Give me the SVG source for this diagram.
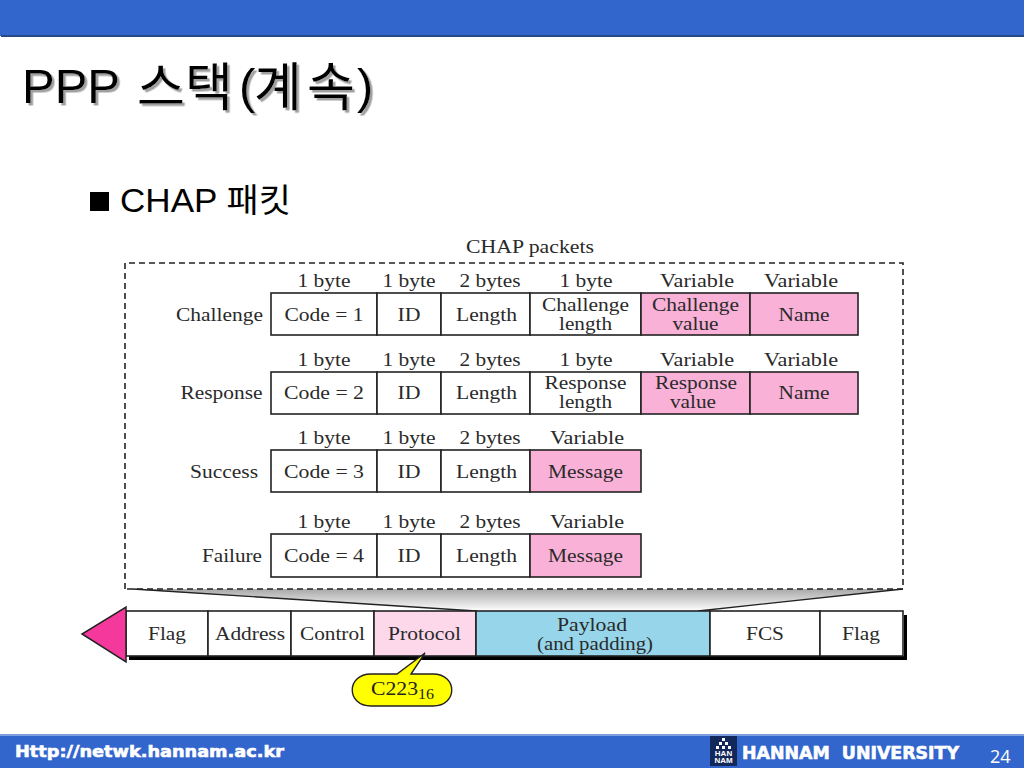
<svg xmlns="http://www.w3.org/2000/svg" width="1024" height="768" viewBox="0 0 1024 768">
<style>
.s{font-family:"Liberation Serif",serif;font-size:18px;fill:#2a2a2a;text-anchor:middle}
.c{fill:#fff;stroke:#222;stroke-width:1.6}
.p{fill:#f9b1d8;stroke:#222;stroke-width:1.6}
.h{font-family:"Liberation Sans","Noto Sans CJK KR",sans-serif;fill:#000}
.k{font-size:52px}
.f{font-family:"DejaVu Sans",sans-serif;font-weight:bold;fill:#fff;stroke:#fff;stroke-width:.6}
</style>
<defs>
<linearGradient id="g" x1="0" y1="0" x2="0" y2="1"><stop offset="0" stop-color="#a8a8a8"/><stop offset="1" stop-color="#fff"/></linearGradient>
<filter id="sh" x="-5%" y="-20%" width="110%" height="140%"><feDropShadow dx="2.500" dy="2.500" stdDeviation="0.400" flood-color="#a0a0a0"/></filter>
</defs>
<rect width="1024" height="768" fill="#fff"/>
<g id="top-band"><rect x="0" y="0" width="1024" height="36" fill="#3366cc"/><rect x="1" y="35" width="1023" height="2" fill="#264a86"/></g>
<g id="title" filter="url(#sh)">
<text class="h" y="103" font-size="49"><tspan x="22">PPP</tspan><tspan class="k" x="137" y="106">스</tspan><tspan class="k" x="185" y="106">택</tspan><tspan x="239" y="103">(</tspan><tspan class="k" x="254" y="106">계</tspan><tspan class="k" x="307" y="106">속</tspan><tspan x="357" y="103">)</tspan></text>
</g>
<g id="bullet"><rect x="90" y="192" width="19" height="19"/><text class="h" x="120" y="212" font-size="33" textLength="171" lengthAdjust="spacingAndGlyphs">CHAP 패킷</text></g>
<g id="connectors">
<path d="M126 589H903L698 611H476Z" fill="url(#g)" stroke="none"/>
<path d="M133 589L476 611M903 589L698 611" fill="none" stroke="#222" stroke-width="1.300"/>
<path d="M125 589V263H903V589H125" fill="none" stroke="#222" stroke-width="1.600" stroke-dasharray="6 4"/>
</g>
<text class="s" x="530" y="253" textLength="128" lengthAdjust="spacingAndGlyphs">CHAP packets</text>
<g id="challenge">
<text class="s" x="219.500" y="321" textLength="87" lengthAdjust="spacingAndGlyphs">Challenge</text>
<text class="s" x="324" y="287" textLength="53" lengthAdjust="spacingAndGlyphs">1 byte</text><text class="s" x="409" y="287" textLength="53" lengthAdjust="spacingAndGlyphs">1 byte</text><text class="s" x="490" y="287" textLength="61" lengthAdjust="spacingAndGlyphs">2 bytes</text><text class="s" x="586" y="287" textLength="53" lengthAdjust="spacingAndGlyphs">1 byte</text><text class="s" x="697" y="287" textLength="74" lengthAdjust="spacingAndGlyphs">Variable</text><text class="s" x="801" y="287" textLength="74" lengthAdjust="spacingAndGlyphs">Variable</text>
<rect class="c" x="271" y="293" width="106" height="42"/><rect class="c" x="377" y="293" width="64" height="42"/><rect class="c" x="441" y="293" width="89" height="42"/><rect class="c" x="530" y="293" width="111" height="42"/><rect class="p" x="641" y="293" width="109" height="42"/><rect class="p" x="750" y="293" width="108" height="42"/>
<text class="s" x="324" y="321" textLength="79" lengthAdjust="spacingAndGlyphs">Code = 1</text><text class="s" x="409" y="321" textLength="23" lengthAdjust="spacingAndGlyphs">ID</text><text class="s" x="486.500" y="321" textLength="61" lengthAdjust="spacingAndGlyphs">Length</text><text class="s" x="585.500" y="311" textLength="87" lengthAdjust="spacingAndGlyphs">Challenge</text><text class="s" x="585.500" y="330" textLength="53" lengthAdjust="spacingAndGlyphs">length</text><text class="s" x="695.500" y="311" textLength="87" lengthAdjust="spacingAndGlyphs">Challenge</text><text class="s" x="695.500" y="330" textLength="46" lengthAdjust="spacingAndGlyphs">value</text><text class="s" x="804" y="321" textLength="51" lengthAdjust="spacingAndGlyphs">Name</text>
</g>
<g id="response">
<text class="s" x="221.500" y="399" textLength="82" lengthAdjust="spacingAndGlyphs">Response</text>
<text class="s" x="324" y="366" textLength="53" lengthAdjust="spacingAndGlyphs">1 byte</text><text class="s" x="409" y="366" textLength="53" lengthAdjust="spacingAndGlyphs">1 byte</text><text class="s" x="490" y="366" textLength="61" lengthAdjust="spacingAndGlyphs">2 bytes</text><text class="s" x="586" y="366" textLength="53" lengthAdjust="spacingAndGlyphs">1 byte</text><text class="s" x="697" y="366" textLength="74" lengthAdjust="spacingAndGlyphs">Variable</text><text class="s" x="801" y="366" textLength="74" lengthAdjust="spacingAndGlyphs">Variable</text>
<rect class="c" x="271" y="372" width="106" height="42"/><rect class="c" x="377" y="372" width="64" height="42"/><rect class="c" x="441" y="372" width="89" height="42"/><rect class="c" x="530" y="372" width="111" height="42"/><rect class="p" x="641" y="372" width="109" height="42"/><rect class="p" x="750" y="372" width="108" height="42"/>
<text class="s" x="324" y="399" textLength="80" lengthAdjust="spacingAndGlyphs">Code = 2</text><text class="s" x="409" y="399" textLength="23" lengthAdjust="spacingAndGlyphs">ID</text><text class="s" x="486.500" y="399" textLength="61" lengthAdjust="spacingAndGlyphs">Length</text><text class="s" x="585.500" y="389" textLength="82" lengthAdjust="spacingAndGlyphs">Response</text><text class="s" x="585.500" y="408" textLength="53" lengthAdjust="spacingAndGlyphs">length</text><text class="s" x="696" y="389" textLength="82" lengthAdjust="spacingAndGlyphs">Response</text><text class="s" x="693" y="408" textLength="46" lengthAdjust="spacingAndGlyphs">value</text><text class="s" x="804" y="399" textLength="51" lengthAdjust="spacingAndGlyphs">Name</text>
</g>
<g id="success">
<text class="s" x="224" y="478" textLength="68" lengthAdjust="spacingAndGlyphs">Success</text>
<text class="s" x="324" y="444" textLength="53" lengthAdjust="spacingAndGlyphs">1 byte</text><text class="s" x="409" y="444" textLength="53" lengthAdjust="spacingAndGlyphs">1 byte</text><text class="s" x="490" y="444" textLength="61" lengthAdjust="spacingAndGlyphs">2 bytes</text><text class="s" x="587" y="444" textLength="74" lengthAdjust="spacingAndGlyphs">Variable</text>
<rect class="c" x="271" y="450" width="106" height="42"/><rect class="c" x="377" y="450" width="64" height="42"/><rect class="c" x="441" y="450" width="89" height="42"/><rect class="p" x="530" y="450" width="111" height="42"/>
<text class="s" x="324" y="478" textLength="80" lengthAdjust="spacingAndGlyphs">Code = 3</text><text class="s" x="409" y="478" textLength="23" lengthAdjust="spacingAndGlyphs">ID</text><text class="s" x="486.500" y="478" textLength="61" lengthAdjust="spacingAndGlyphs">Length</text><text class="s" x="585.500" y="478" textLength="75" lengthAdjust="spacingAndGlyphs">Message</text>
</g>
<g id="failure">
<text class="s" x="232" y="562" textLength="60" lengthAdjust="spacingAndGlyphs">Failure</text>
<text class="s" x="324" y="528" textLength="53" lengthAdjust="spacingAndGlyphs">1 byte</text><text class="s" x="409" y="528" textLength="53" lengthAdjust="spacingAndGlyphs">1 byte</text><text class="s" x="490" y="528" textLength="61" lengthAdjust="spacingAndGlyphs">2 bytes</text><text class="s" x="587" y="528" textLength="74" lengthAdjust="spacingAndGlyphs">Variable</text>
<rect class="c" x="271" y="534" width="106" height="43"/><rect class="c" x="377" y="534" width="64" height="43"/><rect class="c" x="441" y="534" width="89" height="43"/><rect class="p" x="530" y="534" width="111" height="43"/>
<text class="s" x="324" y="562" textLength="80" lengthAdjust="spacingAndGlyphs">Code = 4</text><text class="s" x="409" y="562" textLength="23" lengthAdjust="spacingAndGlyphs">ID</text><text class="s" x="486.500" y="562" textLength="61" lengthAdjust="spacingAndGlyphs">Length</text><text class="s" x="585.500" y="562" textLength="75" lengthAdjust="spacingAndGlyphs">Message</text>
</g>
<g id="ppp-frame">
<path d="M129 656H904V615H907V660H129Z" fill="#000"/>
<rect class="c" x="126" y="611" width="82" height="45"/><rect class="c" x="208" y="611" width="83" height="45"/><rect class="c" x="291" y="611" width="83" height="45"/>
<rect x="374" y="611" width="102" height="45" fill="#fcd8ea" stroke="#222" stroke-width="1.600"/>
<rect x="476" y="611" width="234" height="45" fill="#97d6ea" stroke="#222" stroke-width="1.600"/>
<rect class="c" x="710" y="611" width="110" height="45"/><rect class="c" x="820" y="611" width="83" height="45"/>
<path d="M126 607V662L82 634Z" fill="#f5389b" stroke="#222" stroke-width="1.500"/>
<text class="s" x="167" y="640" textLength="38" lengthAdjust="spacingAndGlyphs">Flag</text><text class="s" x="250" y="640" textLength="70" lengthAdjust="spacingAndGlyphs">Address</text><text class="s" x="332.500" y="640" textLength="65" lengthAdjust="spacingAndGlyphs">Control</text><text class="s" x="424.500" y="640" textLength="73" lengthAdjust="spacingAndGlyphs">Protocol</text>
<text class="s" x="592" y="631" textLength="70" lengthAdjust="spacingAndGlyphs">Payload</text><text class="s" x="595" y="650" textLength="116" lengthAdjust="spacingAndGlyphs">(and padding)</text>
<text class="s" x="765" y="640" textLength="38" lengthAdjust="spacingAndGlyphs">FCS</text><text class="s" x="861" y="640" textLength="38" lengthAdjust="spacingAndGlyphs">Flag</text>
</g>
<g id="callout">
<path d="M425 653L397 674H371C346 674 346 706 371 706H433C458 706 458 674 433 674H411Z" fill="#ffff00" stroke="#222" stroke-width="1.400"/>
<text x="371" y="695" style="font-family:'Liberation Serif',serif;font-size:18px;fill:#222" textLength="47" lengthAdjust="spacingAndGlyphs">C223</text>
<text x="418" y="699" style="font-family:'Liberation Serif',serif;font-size:14px;fill:#222" textLength="16" lengthAdjust="spacingAndGlyphs">16</text>
</g>
<g id="footer">
<rect x="0" y="735" width="1024" height="33" fill="#3366cc"/><rect x="0" y="734" width="1024" height="2" fill="#7e9fdc"/>
<text class="f" x="15" y="757" font-size="16" textLength="269" lengthAdjust="spacingAndGlyphs">Http://netwk.hannam.ac.kr</text>
<rect x="710" y="736" width="27" height="30" fill="#13285a"/>
<g fill="#fff"><rect x="722" y="738" width="3" height="3"/><rect x="719" y="742" width="3" height="3"/><rect x="725" y="742" width="3" height="3"/><rect x="716" y="746" width="3" height="3"/><rect x="722" y="746" width="3" height="3"/><rect x="728" y="746" width="3" height="3"/></g>
<text x="723.500" y="756" font-family="Liberation Sans,sans-serif" font-size="8" font-weight="bold" fill="#fff" text-anchor="middle">HAN</text>
<text x="723.500" y="763" font-family="Liberation Sans,sans-serif" font-size="8" font-weight="bold" fill="#fff" text-anchor="middle">NAM</text>
<text class="f" x="742" y="759" font-size="17" textLength="217" lengthAdjust="spacingAndGlyphs" xml:space="preserve">HANNAM  UNIVERSITY</text>
<text x="990" y="763" font-family="Open Sans,sans-serif" font-size="18" fill="#fff">24</text>
</g>
</svg>
